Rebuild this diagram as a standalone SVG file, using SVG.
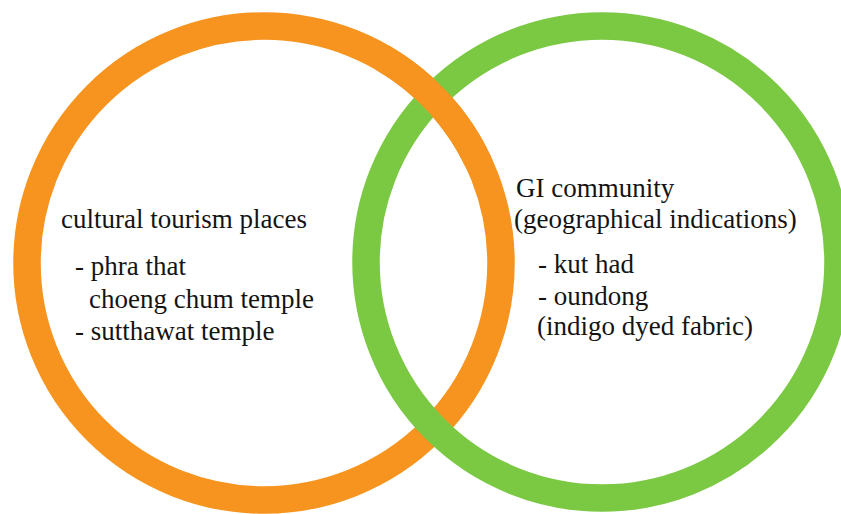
<svg xmlns="http://www.w3.org/2000/svg" width="841" height="514" viewBox="0 0 841 514">
  <style>
    .ring { fill: none; stroke-width: 27.5; }
    .orange { stroke: #F7941F; }
    .green { stroke: #7BC843; }
    .label { font-family: 'Liberation Serif', 'DejaVu Serif', serif; font-size: 27px; fill: #141414; }
  </style>
  <rect width="841" height="514" fill="#ffffff"/>

  <!-- cultural tourism set (orange ring) -->
  <g id="tourism-ring">
    <circle class="ring orange" cx="264" cy="263" r="237"/>
  </g>

  <!-- GI community set (green ring), passes over the orange ring at the lower crossing -->
  <g id="gi-ring">
    <circle class="ring green" cx="602" cy="262" r="236"/>
  </g>

  <!-- orange band re-drawn over the upper crossing so the rings interlock -->
  <g id="tourism-ring-overlap">
    <path class="ring orange" d="M 382.5 57.8 A 237 237 0 0 1 478.8 162.8"/>
  </g>

  <g id="tourism-text">
    <text class="label" x="61" y="228">cultural tourism places</text>
    <text class="label" x="75" y="275">- phra that</text>
    <text class="label" x="89" y="308">choeng chum temple</text>
    <text class="label" x="75" y="340">- sutthawat temple</text>
  </g>

  <g id="gi-text">
    <text class="label" x="516" y="197">GI community</text>
    <text class="label" x="514" y="228">(geographical indications)</text>
    <text class="label" x="538" y="273">- kut had</text>
    <text class="label" x="538" y="305">- oundong</text>
    <text class="label" x="537" y="335">(indigo dyed fabric)</text>
  </g>
</svg>
